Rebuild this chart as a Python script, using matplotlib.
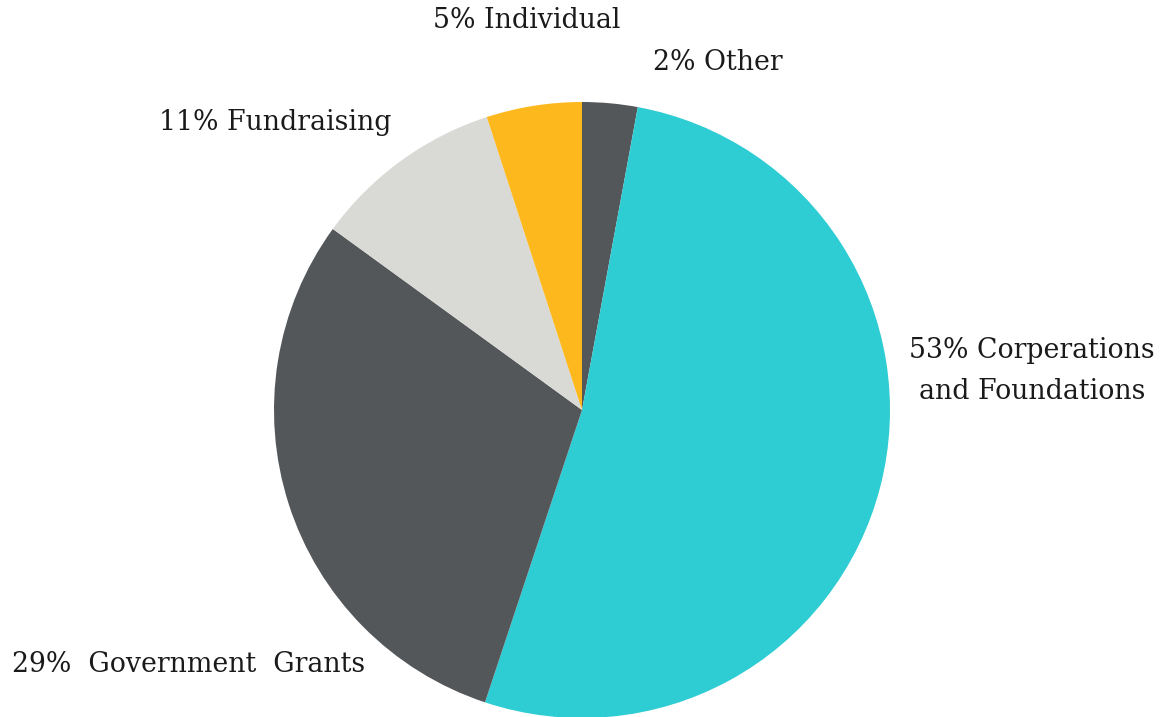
import matplotlib.pyplot as plt

categories = ["Other", "Corperations and Foundations", "Government Grants", "Fundraising", "Individual"]
values = [2.9, 52.2, 29.9, 10.0, 5.0]
colors = ["#54575a", "#2eccd3", "#54575a", "#d9d9d5", "#fdb81e"]
labels = ["2% Other", "53% Corperations\nand Foundations", "29%  Government  Grants",
          "11% Fundraising", "5% Individual"]
label_pos_px = [(718, 63), (1032, 371), (189, 664), (275, 122), (527, 20)]

W, H = 1172, 717
fig = plt.figure(figsize=(W / 100, H / 100), dpi=100)
cx, cy, r = 582, 410, 308
ax = fig.add_axes([(cx - r) / W, (H - (cy + r)) / H, 2 * r / W, 2 * r / H])
wedges, _ = ax.pie(values, colors=colors, startangle=90, counterclock=False,
                   radius=1.0, wedgeprops=dict(linewidth=0))
for w in wedges:
    w.set_clip_on(False)
ax.set_xlim(-1, 1)
ax.set_ylim(-1, 1)
ax.set_aspect("equal")
ax.axis("off")

for lab, (px, py) in zip(labels, label_pos_px):
    fig.text(px / W, 1 - py / H, lab, ha="center", va="center", fontsize=19.3,
             family="DejaVu Serif", color="#1a1a1a", linespacing=1.7)

fig.savefig("out.png", dpi=100)
